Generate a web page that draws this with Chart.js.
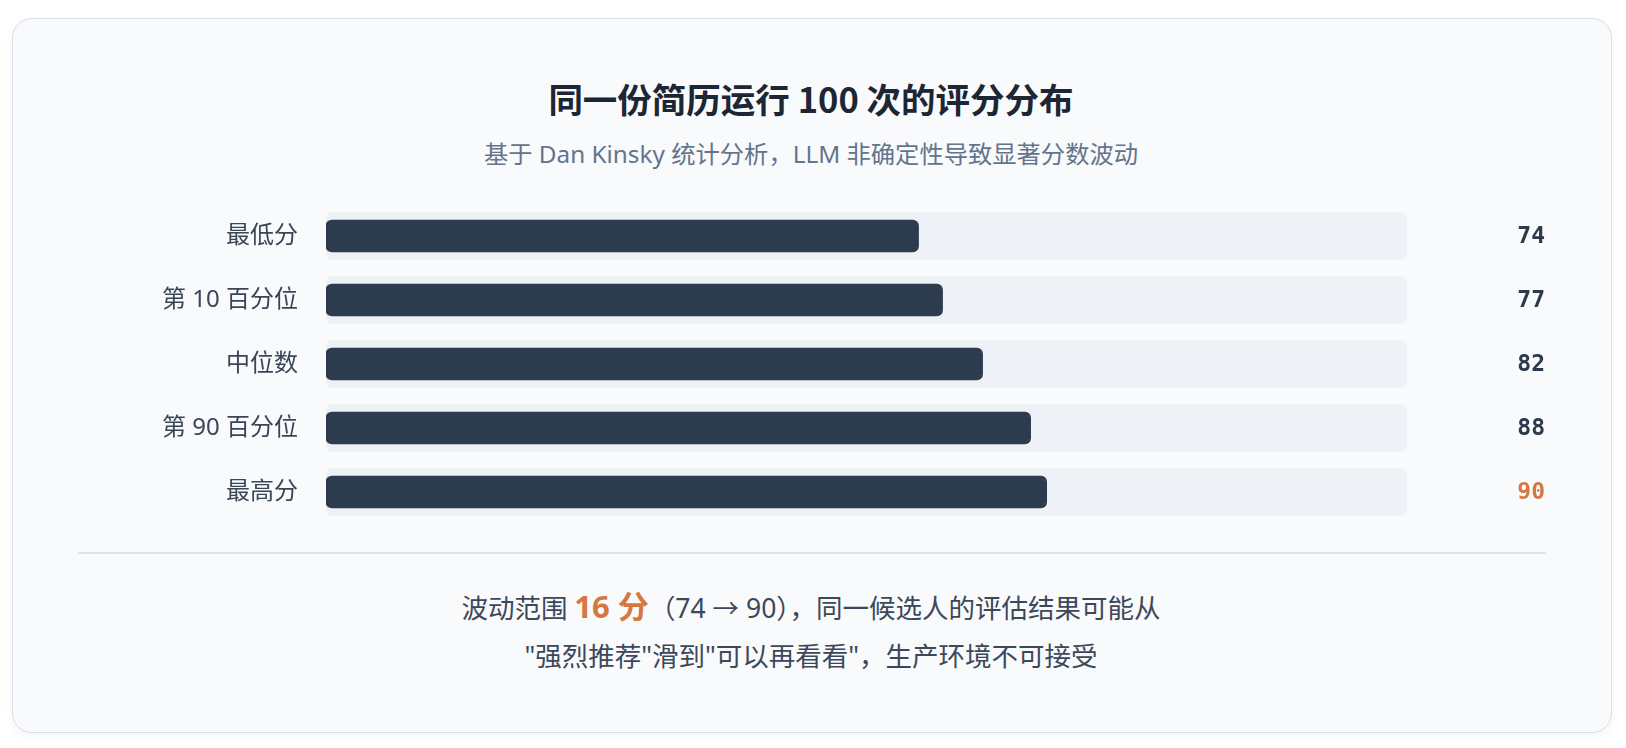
<!DOCTYPE html>
<html>
<head>
<meta charset="utf-8">
<script src="https://cdn.jsdelivr.net/npm/chart.js@4.4.1/dist/chart.umd.min.js"></script>
<style>
  html, body { margin:0; padding:0; background:#ffffff; width:1626px; height:748px; overflow:hidden;
    font-family:"Noto Sans","Noto Sans CJK SC",sans-serif; }
  .card { position:absolute; left:12px; top:18px; width:1600px; height:715px; box-sizing:border-box;
    background:#f8fafc; border:1.5px solid #d7dfe8; border-radius:20px;
    box-shadow:0 3px 10px rgba(15,23,42,0.05); }
  .title { position:absolute; left:0; width:1622px; top:73px; height:50px; line-height:50px; text-align:center;
    font-size:34.5px; font-weight:700; color:#1c2635; font-family:"Noto Sans CJK SC","Noto Sans",sans-serif; }
  .subtitle { position:absolute; left:0; width:1622px; top:136px; height:36px; line-height:36px; text-align:center;
    font-size:24.3px; color:#64748b; font-family:"Noto Sans","Noto Sans CJK SC",sans-serif; }
  .chartbox { position:absolute; left:60px; top:204px; width:1500px; height:320px; }
  .divider { position:absolute; left:78px; width:1468px; top:552px; height:1.5px; background:#dce2e9; }
  .footer { position:absolute; left:0; width:1622px; top:582px; line-height:48px; text-align:center;
    font-size:26.5px; color:#3c4859; font-family:"Noto Sans","Noto Sans CJK SC",sans-serif; }
  .footer b { color:#d5773f; font-size:31px; font-weight:700; }
</style>
</head>
<body>
<div class="card"></div>
<div class="title">同一份简历运行 100 次的评分分布</div>
<div class="subtitle">基于 Dan Kinsky 统计分析，LLM 非确定性导致显著分数波动</div>
<div class="chartbox"><canvas id="c"></canvas></div>
<div class="divider"></div>
<div class="footer">波动范围 <b>16 分</b>（74 → 90），同一候选人的评估结果可能从<br>"强烈推荐"滑到"可以再看看"，生产环境不可接受</div>
<script>
const categories = ['最低分', '第 10 百分位', '中位数', '第 90 百分位', '最高分'];
const values = [74, 77, 82, 88, 90];
const scaleMax = 135;

const valueGap = 138;
const maxIdx = values.indexOf(Math.max(...values));

const valueLabels = {
  id: 'valueLabels',
  afterDatasetsDraw(chart) {
    const { ctx, chartArea } = chart;
    const meta = chart.getDatasetMeta(0);
    ctx.save();
    ctx.font = 'bold 23px "DejaVu Sans Mono", monospace';
    ctx.textAlign = 'right';
    ctx.textBaseline = 'middle';
    meta.data.forEach((bar, i) => {
      ctx.fillStyle = i === maxIdx ? '#d5773f' : '#2d3a4b';
      ctx.fillText(String(values[i]), chartArea.right + valueGap, bar.y + 1);
    });
    ctx.restore();
  }
};

new Chart(document.getElementById('c'), {
  type: 'bar',
  data: {
    labels: categories,
    datasets: [
      { label: '评分', data: values, backgroundColor: '#2d3b4e', borderRadius: 6, borderSkipped: false,
        barThickness: 32, grouped: false, order: 1 },
      { label: '范围', data: categories.map(() => scaleMax), backgroundColor: '#eef1f5', borderRadius: 8,
        borderSkipped: false, barThickness: 48, grouped: false, order: 2 }
    ]
  },
  options: {
    indexAxis: 'y',
    responsive: true,
    maintainAspectRatio: false,
    animation: false,
    layout: { padding: { left: 0, right: 153, top: 0, bottom: 0 } },
    plugins: { legend: { display: false }, tooltip: { enabled: false }, title: { display: false } },
    scales: {
      x: { display: false, min: 0, max: scaleMax },
      y: {
        grid: { display: false, drawTicks: false },
        border: { display: false },
        ticks: { padding: 28, color: '#3a4656',
          font: { size: 24, family: '"Noto Sans", "Noto Sans CJK SC", sans-serif' } },
        afterFit(s) { s.width = 266; s.paddingTop = 0; s.paddingBottom = 0; }
      }
    }
  },
  plugins: [valueLabels]
});
</script>
</body>
</html>
